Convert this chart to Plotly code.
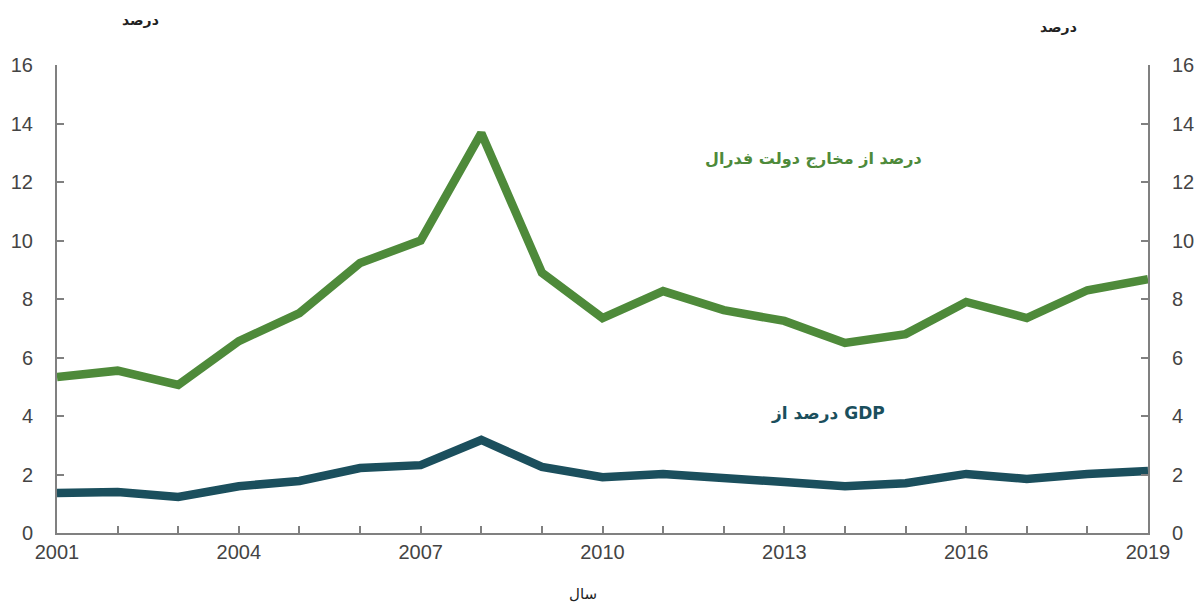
import plotly.graph_objects as go

years = list(range(2001, 2020))
pct_federal = [5.33, 5.55, 5.06, 6.56, 7.52, 9.23, 10.0, 13.67, 8.9, 7.35, 8.27, 7.62, 7.25, 6.5, 6.8, 7.9, 7.35, 8.3, 8.68]
pct_gdp = [1.37, 1.4, 1.23, 1.6, 1.78, 2.22, 2.32, 3.18, 2.26, 1.91, 2.02, 1.91, 1.74, 1.6, 1.7, 2.02, 1.85, 2.02, 2.12]
x_tick_vals = [2001, 2004, 2007, 2010, 2013, 2016, 2019]
y_tick_vals = [0, 2, 4, 6, 8, 10, 12, 14, 16]

green = "#4e8a3a"
teal = "#1b4f5d"
axis_col = "#808080"
tick_font = dict(family="Liberation Sans, Arial", size=20, color="#444444")

L, R, T, B = 57, 48, 65, 71
W, H = 1196, 604

fig = go.Figure()
fig.add_trace(go.Scatter(x=years, y=pct_federal, mode="lines",
                         line=dict(color=green, width=8.5), showlegend=False))
fig.add_trace(go.Scatter(x=years, y=pct_gdp, mode="lines",
                         line=dict(color=teal, width=8.5), showlegend=False))
fig.add_trace(go.Scatter(x=years, y=pct_gdp, mode="lines", yaxis="y2",
                         line=dict(color="rgba(0,0,0,0)", width=0),
                         hoverinfo="skip", showlegend=False))

ycommon = dict(range=[0, 16], tickmode="array", tickvals=y_tick_vals,
               showgrid=False, zeroline=False, showline=True, linecolor=axis_col, linewidth=2,
               ticks="inside", ticklen=7, tickwidth=2, tickcolor=axis_col,
               tickfont=tick_font, ticklabelstandoff=18, automargin=False)

fig.update_layout(
    width=W, height=H,
    margin=dict(l=L, r=R, t=T, b=B),
    paper_bgcolor="white", plot_bgcolor="white",
    xaxis=dict(range=[2001, 2019], tickmode="array", tickvals=x_tick_vals,
               showgrid=False, zeroline=False, showline=True, linecolor=axis_col, linewidth=2,
               ticks="inside", ticklen=7, tickwidth=2, tickcolor=axis_col,
               minor=dict(ticks="inside", ticklen=7, tickwidth=2, tickcolor=axis_col, dtick=1),
               tickfont=tick_font, automargin=False),
    yaxis=ycommon,
    yaxis2=dict(ycommon, overlaying="y", side="right"),
)

pw = W - L - R
ph = H - T - B
def ann(text, px, py, size, color):
    fig.add_annotation(text=text, x=(px - L) / pw, y=(H - B - py) / ph,
                       xref="paper", yref="paper", showarrow=False,
                       xanchor="center", yanchor="middle",
                       font=dict(family="DejaVu Sans", size=size, color=color))

ann("<b>درصد</b>", 140, 20, 14, "#222222")
ann("<b>درصد</b>", 1058, 27, 14, "#222222")
ann("سال", 583, 594, 15, "#222222")
ann("<b>درصد از مخارج دولت فدرال</b>", 813, 158, 16, green)
ann("<b>درصد از GDP</b>", 828, 413, 17, teal)

fig.write_html("out.html", config={"displayModeBar": False},
               post_script="document.body.style.margin='0';document.body.style.overflow='hidden';")
